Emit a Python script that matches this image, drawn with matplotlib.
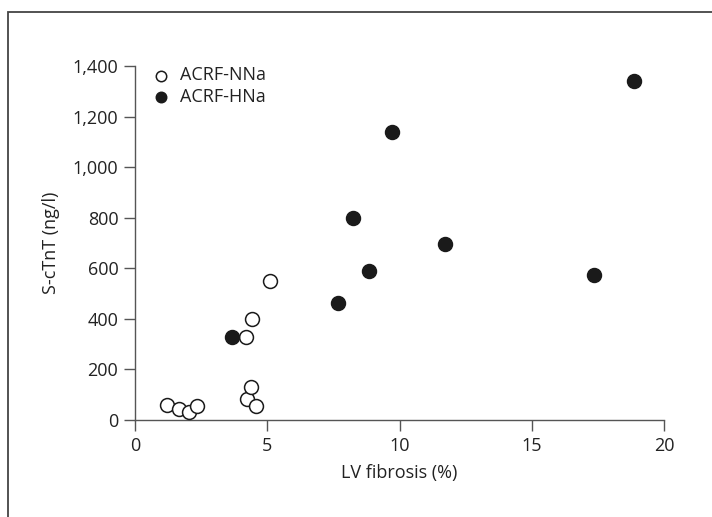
import matplotlib.pyplot as plt
from matplotlib.patches import Rectangle

plt.rcParams['font.family'] = ['Open Sans', 'DejaVu Sans']

# LV fibrosis (%) vs S-cTnT (ng/l)
nna_fib = [1.21, 1.66, 2.04, 2.34, 4.23, 4.39, 4.57, 4.20, 4.42, 5.10]
nna_tnt = [59, 43, 32, 55, 83, 130, 55, 327, 398, 548]
hna_fib = [3.67, 7.67, 8.24, 8.85, 9.72, 11.72, 17.35, 18.87]
hna_tnt = [327, 462, 800, 588, 1140, 698, 572, 1341]

xticks = [0, 5, 10, 15, 20]
yticks = [0, 200, 400, 600, 800, 1000, 1200, 1400]
ytick_labels = ['0', '200', '400', '600', '800', '1,000', '1,200', '1,400']

fig = plt.figure(figsize=(7.12, 5.17), dpi=100)
ax = fig.add_axes([0.1896, 0.1876, 0.743, 0.6847])

# outer frame, running off the right and bottom edges
fig.patches.append(Rectangle((8 / 712, -0.1), 2.0, 1 - 12 / 517 + 0.1,
                             transform=fig.transFigure, fill=False,
                             edgecolor='#444444', linewidth=1.3))

ax.scatter(nna_fib, nna_tnt, s=100, facecolors='white', edgecolors='#1a1a1a',
           linewidths=1.1, label='ACRF-NNa', clip_on=False, zorder=3)
ax.scatter(hna_fib, hna_tnt, s=100, facecolors='#1a1a1a', edgecolors='#1a1a1a',
           linewidths=1.1, label='ACRF-HNa', clip_on=False, zorder=3)

ax.set_xlim(0, 20)
ax.set_ylim(0, 1400)
ax.set_xticks(xticks)
ax.set_yticks(yticks)
ax.set_yticklabels(ytick_labels)

for side in ['top', 'right']:
    ax.spines[side].set_visible(False)
for side in ['left', 'bottom']:
    ax.spines[side].set_color('#555555')
    ax.spines[side].set_linewidth(1.0)
ax.tick_params(direction='out', length=8, width=1.0, color='#555555',
               labelsize=13, labelcolor='#222222', pad=4)

ax.set_xlabel('LV fibrosis (%)', fontsize=13, color='#222222', labelpad=7)
ax.set_ylabel('S-cTnT (ng/l)', fontsize=13, color='#222222', labelpad=9)

ax.legend(loc='upper left', bbox_to_anchor=(-0.015, 1.045), frameon=False,
          fontsize=13, handletextpad=0.05, labelspacing=0.2, markerscale=0.75,
          labelcolor='#222222')

fig.savefig('out.png', dpi=100, facecolor='white')
